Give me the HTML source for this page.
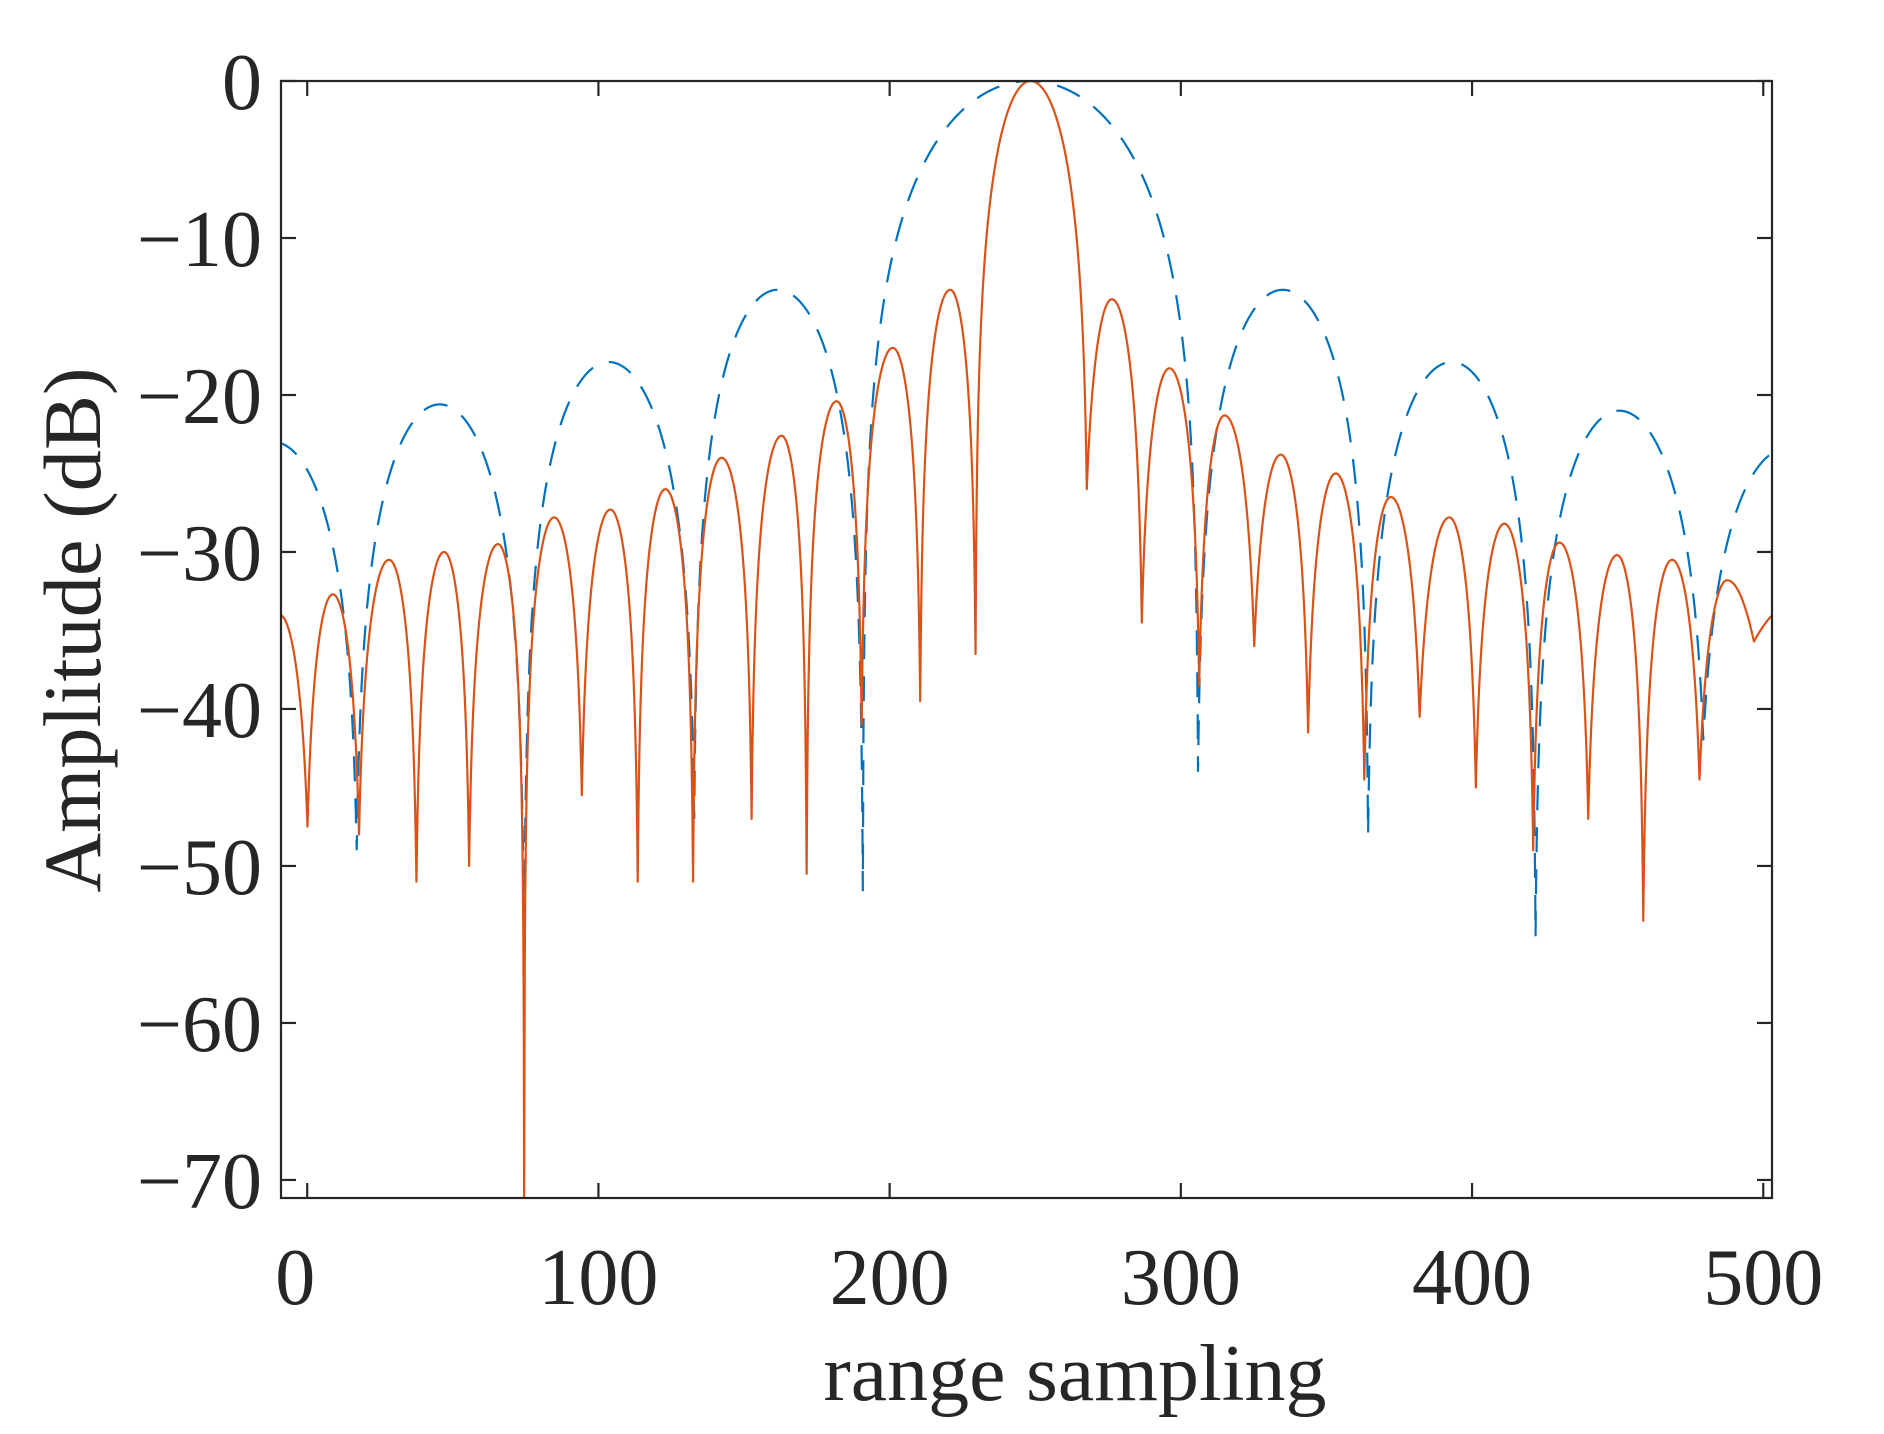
<!DOCTYPE html>
<html><head><meta charset="utf-8"><style>
html,body{margin:0;padding:0;background:#fff;}
svg{display:block;font-family:"Liberation Serif","Times New Roman",serif;}
</style></head><body>
<svg id="chart" width="1884" height="1434" viewBox="0 0 1884 1434" xmlns="http://www.w3.org/2000/svg">
<rect x="0" y="0" width="1884" height="1434" fill="#fff"/>
<defs><clipPath id="plotclip"><rect x="281" y="81" width="1491" height="1117"/></clipPath></defs>
<g id="series" clip-path="url(#plotclip)"></g>
<g id="axes"></g>
<text x="1075" y="1400" font-size="80" fill="#262626" text-anchor="middle" textLength="503" lengthAdjust="spacingAndGlyphs">range sampling</text>
<text transform="translate(100,630) rotate(-90)" font-size="82" fill="#262626" text-anchor="middle" textLength="525" lengthAdjust="spacingAndGlyphs">Amplitude (dB)</text>
</svg>
<script>
// ---- data ----
const xTicks = [0,100,200,300,400,500];
const yTicks = [0,-10,-20,-30,-40,-50,-60,-70];
const yTickLabels = ["0","\u221210","\u221220","\u221230","\u221240","\u221250","\u221260","\u221270"];
// blue dashed series: lobe boundaries (nulls), peak positions, peak levels, null depths
const blueNullX = [-40.5, 17, 74.5, 132.9, 190.8, 305.9, 364.3, 421.8, 479.4, 537.1];
const bluePeakX = [-11.5, 45.5, 103.5, 161.5, 248, 335, 393, 450.5, 508.2];
const bluePeakDb = [-23, -20.6, -17.9, -13.3, 0, -13.3, -17.9, -21, -23.4];
const blueNullDb = [-40, -49, -56, -47, -51.6, -44, -48, -54.5, -42, -40];
// orange solid series
const orangeNullX = [-19.5, 0.1, 17.8, 37.5, 55.6, 74.5, 94.3, 113.5, 132.5, 152.6, 171.5, 190.4, 210.5, 229.5, 267.7, 286.6, 306.3, 325.2, 343.7, 363, 382, 401.3, 421, 439.9, 458.8, 478.1, 496.8, 518];
const orangePeakX = [-9.5, 8.8, 28.1, 47, 65.5, 84.8, 104.1, 123, 142.3, 162.9, 181.8, 201.1, 220.8, 248.4, 276.3, 296.1, 315, 334.3, 353.2, 372.1, 392.2, 411.1, 430, 449.8, 468.7, 487.6, 508];
const orangePeakDb = [-34, -32.7, -30.5, -30, -29.5, -27.8, -27.3, -26, -24, -22.6, -20.4, -17, -13.3, 0, -13.9, -18.3, -21.3, -23.8, -25, -26.5, -27.8, -28.2, -29.4, -30.2, -30.5, -31.8, -33.6];
const orangeNullDb = [-40, -47.5, -48, -51, -50, -71.5, -45.5, -51, -51, -47, -50.5, -41, -39.5, -36.5, -26, -34.5, -38.5, -36, -41.5, -44.5, -40.5, -45, -49, -47, -53.5, -44.5, -35.7, -40];

// ---- axis functions ----
const X0=281, X1=1772, Y0=81, Y1=1198, XMIN=-9, XMAX=503, YMAX=0, YMIN=-71.15;
function sx(v){return X0+(v-XMIN)/(XMAX-XMIN)*(X1-X0);}
function sy(v){return Y0+(YMAX-v)/(YMAX-YMIN)*(Y1-Y0);}
const NS="http://www.w3.org/2000/svg";

function lobePath(nx, px, pd, nd){
  const pts=[];
  for(let i=0;i<px.length;i++){
    const a=nx[i], b=nx[i+1], p=px[i];
    const step=0.2;
    for(let x=a;x<=b+1e-9;x+=step){
      let f;
      if(x<=p) f=0.5*(x-a)/(p-a); else f=0.5+0.5*(x-p)/(b-p);
      const s=Math.abs(Math.sin(Math.PI*f));
      const dep = (f<0.5)? nd[i] : nd[i+1];
      const eps = Math.pow(10,(dep-pd[i])/20);
      const v = pd[i]+20*Math.log10(s*(1-eps)+eps);
      if(x<-11||x>505) continue;
      pts.push(sx(x).toFixed(2)+","+sy(v).toFixed(2));
    }
  }
  return "M"+pts.join("L");
}
const g=document.getElementById('series');
const blue=document.createElementNS(NS,'path');
blue.setAttribute('d',lobePath(blueNullX,bluePeakX,bluePeakDb,blueNullDb));
blue.setAttribute('fill','none');blue.setAttribute('stroke','#0072BD');blue.setAttribute('stroke-width','2.2');
blue.setAttribute('stroke-dasharray','25 17');


g.appendChild(blue);
const orange=document.createElementNS(NS,'path');
orange.setAttribute('d',lobePath(orangeNullX,orangePeakX,orangePeakDb,orangeNullDb));
orange.setAttribute('fill','none');orange.setAttribute('stroke','#D95319');orange.setAttribute('stroke-width','2.2');
orange.setAttribute('stroke-linejoin','round');


g.appendChild(orange);

// ---- axes ----
const ax=document.getElementById('axes');
const box=document.createElementNS(NS,'rect');
box.setAttribute('x',X0);box.setAttribute('y',Y0);box.setAttribute('width',X1-X0);box.setAttribute('height',Y1-Y0);
box.setAttribute('fill','none');box.setAttribute('stroke','#262626');box.setAttribute('stroke-width','2.2');


ax.appendChild(box);
xTicks.forEach(function(t){
  const x=sx(t);
  [[Y1,Y1-15],[Y0,Y0+15]].forEach(function(yy){
    const l=document.createElementNS(NS,'line');
    l.setAttribute('x1',x);l.setAttribute('x2',x);l.setAttribute('y1',yy[0]);l.setAttribute('y2',yy[1]);
    l.setAttribute('stroke','#262626');l.setAttribute('stroke-width','2.2');
    
    
    ax.appendChild(l);
  });
  const tx=document.createElementNS(NS,'text');
  tx.setAttribute('x', t===0 ? x-12 : x);tx.setAttribute('y',1304);
  tx.setAttribute('font-size','80');tx.setAttribute('fill','#262626');tx.setAttribute('text-anchor','middle');
  tx.textContent=String(t);
  
  
  ax.appendChild(tx);
});
yTicks.forEach(function(t,i){
  const y=sy(t);
  [[X0,X0+15],[X1,X1-15]].forEach(function(xx){
    const l=document.createElementNS(NS,'line');
    l.setAttribute('x1',xx[0]);l.setAttribute('x2',xx[1]);l.setAttribute('y1',y);l.setAttribute('y2',y);
    l.setAttribute('stroke','#262626');l.setAttribute('stroke-width','2.2');
    
    
    ax.appendChild(l);
  });
  const tx=document.createElementNS(NS,'text');
  tx.setAttribute('x',262);tx.setAttribute('y',y+28);
  tx.setAttribute('font-size','80');tx.setAttribute('fill','#262626');tx.setAttribute('text-anchor','end');
  tx.textContent=yTickLabels[i];
  
  
  ax.appendChild(tx);
});
</script>
</body></html>
